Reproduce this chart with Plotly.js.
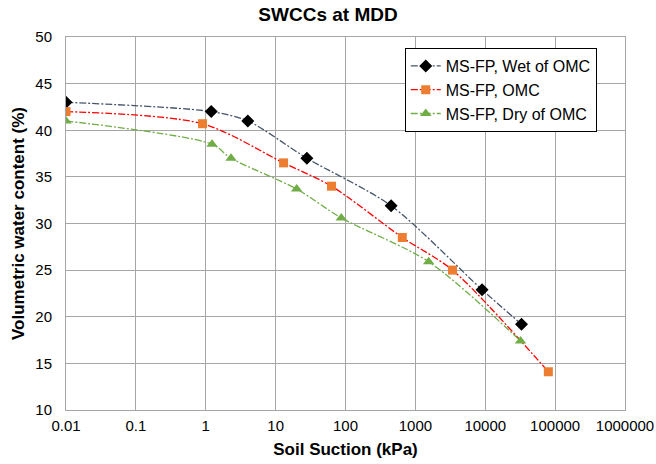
<!DOCTYPE html>
<html>
<head>
<meta charset="utf-8">
<script src="https://cdn.plot.ly/plotly-3.0.1.min.js"></script>
<style>html,body{margin:0;padding:0;background:#fff}#chart{width:656px;height:464px}</style>
</head>
<body>
<div id="chart"></div>
<script>
// Data
const wetSuction = [0.01, 1.2, 4, 28, 450, 9000, 33000];
const wetVWC     = [43.0, 42.0, 41.0, 37.0, 31.9, 22.9, 19.2];

const omcSuction = [0.01, 0.9, 13, 63, 650, 3400, 80000];
const omcVWC     = [42.0, 40.7, 36.5, 34.0, 28.5, 25.0, 14.1];

const drySuction = [0.01, 1.23, 2.3, 20, 87, 1550, 32000];
const dryVWC     = [41.0, 38.5, 37.0, 33.7, 30.6, 25.9, 17.4];

const seriesNames = ["MS-FP, Wet of OMC", "MS-FP, OMC", "MS-FP, Dry of OMC"];

const xTickVals = [0.01, 0.1, 1, 10, 100, 1000, 10000, 100000, 1000000];
const xTickText = ["0.01", "0.1", "1", "10", "100", "1000", "10000", "100000", "1000000"];

const font = "Liberation Sans, Arial, sans-serif";
const dash = "7px,2px,2px,2px";

const traces = [
  {x: wetSuction, y: wetVWC, name: seriesNames[0], mode: "lines+markers",
   line: {color: "#44546A", width: 1.3, dash: dash, shape: "spline", smoothing: 0.8},
   marker: {symbol: "diamond", color: "#000000", size: 10}},
  {x: omcSuction, y: omcVWC, name: seriesNames[1], mode: "lines+markers",
   line: {color: "#FF0000", width: 1.3, dash: dash, shape: "spline", smoothing: 0.8},
   marker: {symbol: "square", color: "#ED7D31", size: 9}},
  {x: drySuction, y: dryVWC, name: seriesNames[2], mode: "lines+markers",
   line: {color: "#70AD47", width: 1.3, dash: dash, shape: "spline", smoothing: 0.8},
   marker: {symbol: "triangle-up", color: "#70AD47", size: 10}}
];

const layout = {
  width: 656, height: 464,
  margin: {l: 66, r: 31, t: 37, b: 54},
  paper_bgcolor: "#ffffff", plot_bgcolor: "#ffffff",
  font: {family: font, size: 15, color: "#000000"},
  title: {text: "<b>SWCCs at MDD</b>", x: 0.5, xanchor: "center", y: 0.968, yanchor: "middle",
          font: {family: font, size: 19, color: "#000000"}},
  xaxis: {
    type: "log", range: [-2, 6],
    tickvals: xTickVals, ticktext: xTickText,
    showgrid: true, gridcolor: "#A6A6A6", gridwidth: 1,
    showline: true, linecolor: "#A6A6A6", mirror: true,
    ticks: "", zeroline: false, ticklabelstandoff: 2,
    tickfont: {family: font, size: 15, color: "#000000"},
    title: {text: "<b>Soil Suction (kPa)</b>", standoff: 10, font: {family: font, size: 17, color: "#000000"}}
  },
  yaxis: {
    range: [10, 50], dtick: 5, tick0: 10,
    showgrid: true, gridcolor: "#A6A6A6", gridwidth: 1,
    showline: true, linecolor: "#A6A6A6", mirror: true,
    ticks: "", zeroline: false, ticklabelstandoff: 10,
    tickfont: {family: font, size: 15, color: "#000000"},
    title: {text: "<b>Volumetric water content (%)</b>", standoff: 6, font: {family: font, size: 17, color: "#000000"}}
  },
  legend: {
    x: 0.606, y: 0.9705, xanchor: "left", yanchor: "top",
    bgcolor: "#ffffff", bordercolor: "#000000", borderwidth: 1,
    font: {family: font, size: 16, color: "#000000"},
    tracegroupgap: 0, itemwidth: 30
  },
  showlegend: true
};

Plotly.newPlot("chart", traces, layout, {displayModeBar: false, staticPlot: true});
</script>
</body>
</html>
